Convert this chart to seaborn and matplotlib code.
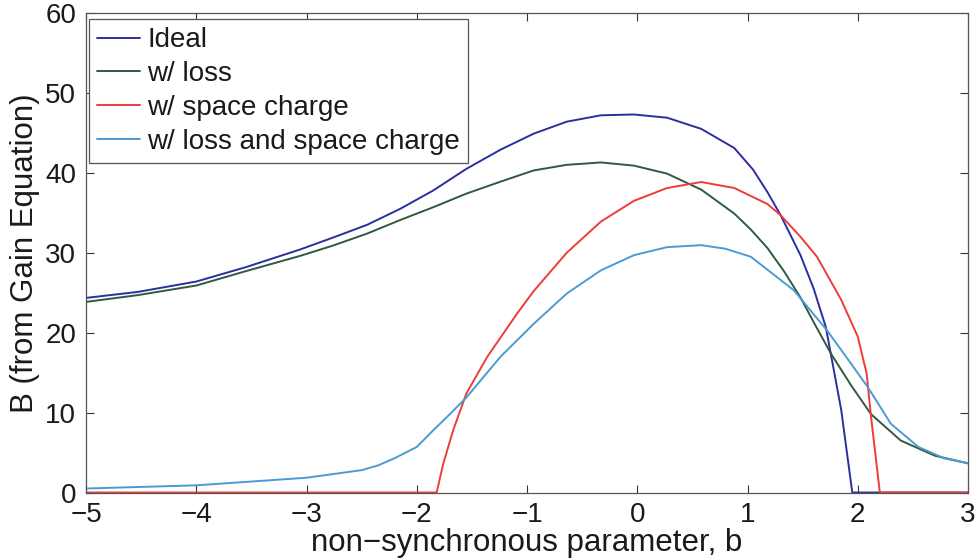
import matplotlib
matplotlib.use("Agg")
import matplotlib.pyplot as plt
import seaborn as sns
import pandas as pd

# ---- data ----
b_ideal = [-5, -4.53, -4.0, -3.55, -3.06, -2.76, -2.45, -2.15, -1.85, -1.55, -1.24, -0.94,
           -0.64, -0.33, -0.03, 0.27, 0.58, 0.88, 1.05, 1.18, 1.30, 1.48, 1.60, 1.71,
           1.76, 1.85, 1.95, 3.0]
B_ideal = [24.35, 25.1, 26.4, 28.2, 30.4, 31.9, 33.5, 35.5, 37.8, 40.5, 42.9, 44.9,
           46.4, 47.2, 47.3, 46.9, 45.5, 43.1, 40.4, 37.6, 34.7, 29.7, 25.5, 20.7,
           17.0, 10.3, 0.0, 0.0]

b_loss = [-5, -4.53, -4.0, -3.55, -3.06, -2.76, -2.45, -2.15, -1.85, -1.55, -1.24, -0.94,
          -0.64, -0.33, -0.03, 0.27, 0.58, 0.88, 1.03, 1.18, 1.33, 1.48, 1.62, 1.76,
          1.94, 2.12, 2.39, 2.70, 3.0]
B_loss = [23.85, 24.7, 25.9, 27.7, 29.6, 30.9, 32.4, 34.1, 35.7, 37.4, 38.9, 40.3,
          41.0, 41.3, 40.9, 39.9, 37.9, 34.9, 32.9, 30.6, 27.7, 24.4, 20.8, 17.3,
          13.4, 9.8, 6.5, 4.6, 3.65]

b_sc = [-5, -1.82, -1.76, -1.67, -1.55, -1.36, -1.09, -0.94, -0.79, -0.64, -0.33, -0.03,
        0.27, 0.58, 0.88, 1.18, 1.30, 1.48, 1.63, 1.85, 2.00, 2.08, 2.12, 2.20, 3.0]
B_sc = [0.0, 0.0, 3.6, 7.8, 12.4, 17.0, 22.4, 25.2, 27.6, 30.0, 33.9, 36.5,
        38.1, 38.85, 38.1, 36.1, 34.7, 32.0, 29.5, 24.1, 19.5, 14.9, 9.5, 0.0, 0.0]

b_lsc = [-5, -4, -3, -2.5, -2.35, -2.2, -2.0, -1.85, -1.7, -1.55, -1.24, -0.94, -0.64,
         -0.33, -0.03, 0.27, 0.58, 0.80, 1.03, 1.42, 1.72, 1.94, 2.09, 2.30, 2.55,
         2.78, 3.0]
B_lsc = [0.5, 0.9, 1.85, 2.8, 3.4, 4.3, 5.7, 7.8, 9.8, 11.9, 17.0, 21.1, 24.9,
         27.8, 29.7, 30.7, 30.95, 30.5, 29.5, 25.3, 20.3, 16.1, 13.2, 8.6, 5.7,
         4.3, 3.65]

labels = ["Ideal", "w/ loss", "w/ space charge", "w/ loss and space charge"]
colors = ["#2b2f9e", "#2f5a40", "#ee3b3b", "#4a9bd4"]
x_ticks = [-5, -4, -3, -2, -1, 0, 1, 2, 3]
y_ticks = [0, 10, 20, 30, 40, 50, 60]

sns.set_theme(style="ticks")
plt.rcParams["font.family"] = ["Liberation Sans", "DejaVu Sans"]
plt.rcParams["axes.unicode_minus"] = True

fig = plt.figure(figsize=(9.8, 5.6), dpi=100)
ax = fig.add_axes([0.0878, 0.1205, 0.9000, 0.8563])

series = [(b_ideal, B_ideal), (b_loss, B_loss), (b_sc, B_sc), (b_lsc, B_lsc)]
for (xs, ys), lab, col in zip(series, labels, colors):
    df = pd.DataFrame({"b": xs, "B": ys})
    sns.lineplot(data=df, x="b", y="B", ax=ax, color=col, label=lab, linewidth=1.4,
                 sort=False)

ax.set_xlim(-5, 3)
ax.set_ylim(0, 60)
ax.set_xticks(x_ticks)
ax.set_yticks(y_ticks)
ax.tick_params(direction="in", top=True, right=True, labelsize=20, length=6,
               width=0.8, colors="#333333", labelcolor="#1a1a1a")
ax.tick_params(axis="x", pad=7)
ax.tick_params(axis="y", pad=7)
for s in ax.spines.values():
    s.set_color("#555555")
    s.set_linewidth(0.9)

ax.set_xlabel("non\u2212synchronous parameter, b", fontsize=22.5, color="#1a1a1a",
              labelpad=0)
ax.set_ylabel("B (from Gain Equation)", fontsize=22.5, color="#1a1a1a", labelpad=4)

leg = ax.legend(loc="upper left", bbox_to_anchor=(3 / 882, 1 - 6 / 479.5),
                fontsize=20, frameon=True, fancybox=False,
                edgecolor="#555555", framealpha=1, borderaxespad=0,
                handlelength=1.55, handletextpad=0.25, labelspacing=0.28,
                borderpad=0.3)
leg.get_frame().set_linewidth(0.9)
for t in leg.get_texts():
    t.set_color("#1a1a1a")

fig.savefig("out.png", dpi=100)
